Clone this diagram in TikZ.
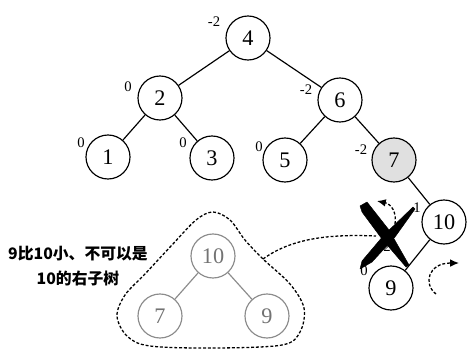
\documentclass[tikz,border=0pt]{standalone}
\usepackage{fontspec}
\setmainfont{Liberation Serif}
\newfontfamily\cjk{Noto Sans CJK SC}
\usetikzlibrary{arrows.meta}
\begin{document}
\begin{tikzpicture}[x=0.03cm,y=-0.03cm,
 tn/.style={circle,draw,line width=1pt,minimum size=1.32cm,inner sep=0pt,font=\fontsize{19}{20}\selectfont},
 gn/.style={tn,draw=black!45,text=black!55},
 lab/.style={font=\fontsize{12.5}{13}\selectfont,inner sep=0pt},
 edge/.style={line width=1pt},
 gedge/.style={line width=1pt,draw=black!45},
 dsh/.style={line width=1.1pt,dash pattern=on 2.5pt off 1.6pt},
 tip/.style={-{Latex[length=7.5pt,width=6.5pt]}},
 crossink/.style={fill=black,draw=black,line width=0.4pt,line join=round},
]
\useasboundingbox (0,0) rectangle (469,350);
% main tree
\node[tn] (n4) at (248,38) {4};
\node[tn] (n2) at (160,98) {2};
\node[tn] (n6) at (340,100) {6};
\node[tn] (n1) at (108,157) {1};
\node[tn] (n3) at (212,158) {3};
\node[tn] (n5) at (285,160) {5};
\node[tn,fill=black!12] (n7) at (394,160) {7};
\node[tn] (n10) at (444,222) {10};
\node[tn] (n9) at (391,288) {9};
\draw[edge] (n4) -- (n2);
\draw[edge] (n4) -- (n6);
\draw[edge] (n2) -- (n1);
\draw[edge] (n2) -- (n3);
\draw[edge] (n6) -- (n5);
\draw[edge] (n6) -- (n7);
\draw[edge] (n7) -- (n10);
\draw[edge] (n10) -- (n9);
% balance labels
\node[lab] (l4) at (214,22) {-2};
\node[lab] (l2) at (128,87) {0};
\node[lab] (l6) at (306,90) {-2};
\node[lab] (l1) at (81,143) {0};
\node[lab] (l3) at (183,143) {0};
\node[lab] (l5) at (259,147) {0};
\node[lab] (l7) at (361,150) {-2};
\node[lab] (l10) at (417,208) {1};
\node[lab] (l9) at (364,271) {0};
\node[lab] (lx) at (387,247) {2};
% cross
\fill[crossink] (360,206) -- (367,202) -- (389,230) -- (409,265) -- (406,267) -- (382,239) -- (362,212) -- cycle;
\fill[crossink] (413,207) -- (415,209) -- (395,237) -- (372,262) -- (360,269) -- (362,261) -- (384,235) -- cycle;
% subtree
\node[gn] (g10) at (213,256) {10};
\node[gn] (g7) at (160,316) {7};
\node[gn] (g9) at (267,316) {9};
\draw[gedge] (g10) -- (g7);
\draw[gedge] (g10) -- (g9);
\draw[dsh] plot[smooth cycle,tension=0.55] coordinates {(213,212) (230,220) (245,240) (263,259) (290,284) (304,308) (300,332) (282,345) (215,348) (150,346) (127,336) (117,316) (125,295) (145,274) (172,245) (196,220)};
\coordinate (bl) at (263,259);
\coordinate (xc) at (376,236);
\draw[dsh] (bl) .. controls (292,238) and (330,234) .. (xc);
% rotation arrows
\coordinate (a1s) at (395,224);
\coordinate (a1e) at (377,201);
\draw[dsh,tip] (a1s) .. controls (397,212) and (391,204) .. (a1e);
\coordinate (a2s) at (436,294);
\coordinate (a2e) at (459,263);
\draw[dsh,tip] (a2s) .. controls (423,284) and (428,263) .. (a2e);
% text
\node[font={\cjk\bfseries\fontsize{13.5}{22}\selectfont},align=center,inner sep=0pt] (txt) at (78,266) {9比10小、不可以是\\10的右子树};
\end{tikzpicture}
\end{document}
